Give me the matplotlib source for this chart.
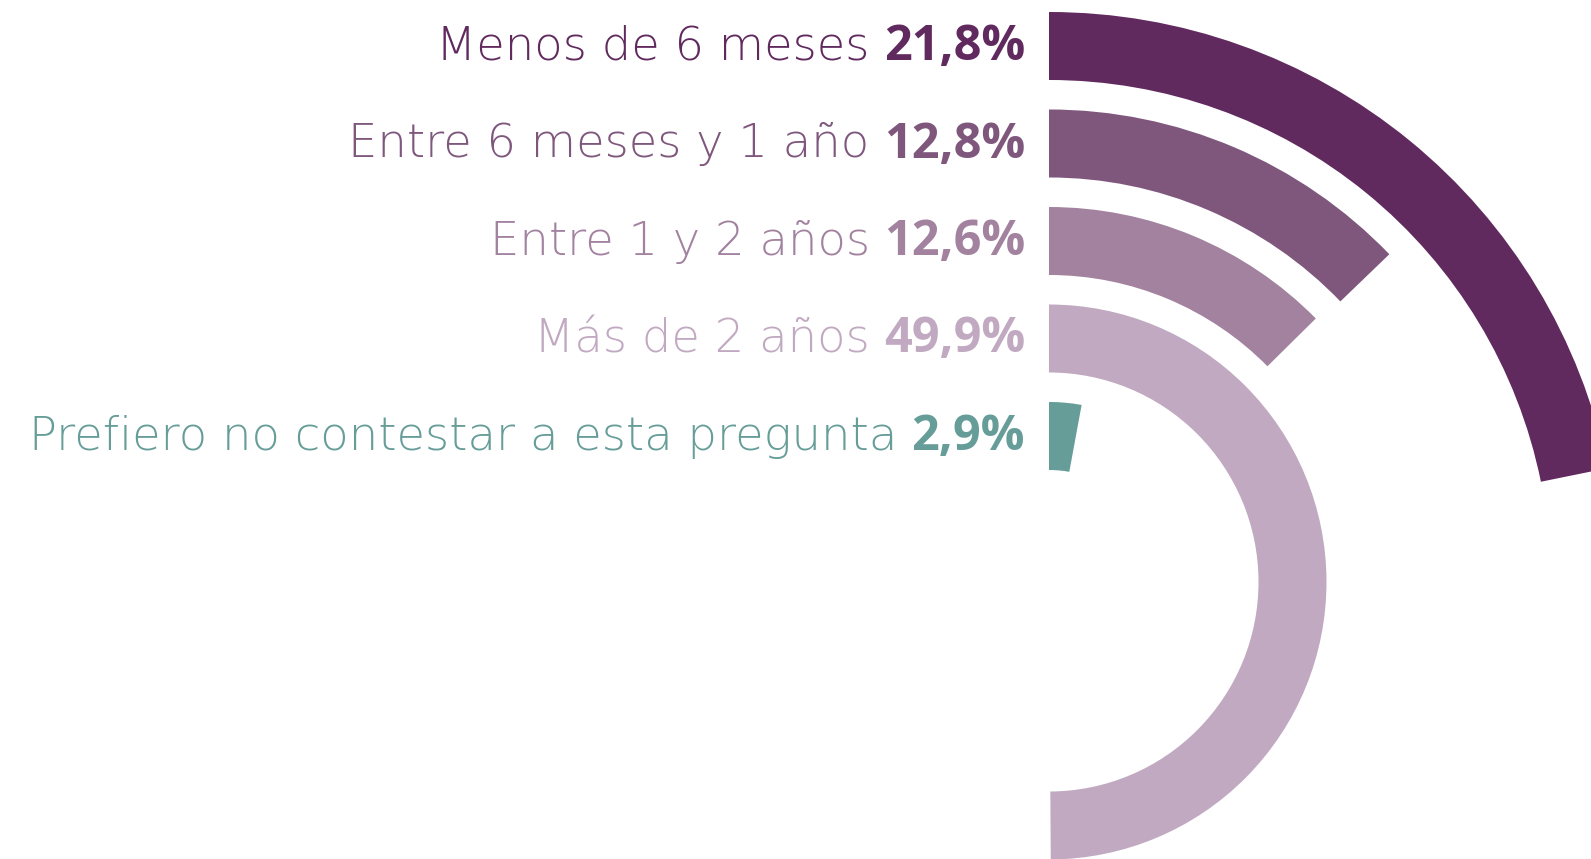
import numpy as np
import matplotlib
matplotlib.use("Agg")
import matplotlib.pyplot as plt
from matplotlib.transforms import IdentityTransform

labels = ["Menos de 6 meses", "Entre 6 meses y 1 año", "Entre 1 y 2 años",
          "Más de 2 años", "Prefiero no contestar a esta pregunta"]
values = [21.8, 12.8, 12.6, 49.9, 2.9]
colors = ["#612a5f", "#7f577d", "#a2829f", "#c1aac1", "#669d98"]

W, H = 1591, 859
cx, cy = 1049, 582          # centre of the rings, pixels from top-left
R = 600                     # polar axes radius in pixels
outer0 = 570                # outer radius of first ring
step = 97.5
thick = 68

fig = plt.figure(figsize=(W / 100, H / 100), dpi=100)
ax = fig.add_axes([(cx - R) / W, (H - cy - R) / H, 2 * R / W, 2 * R / H],
                  projection="polar")
ax.set_theta_zero_location("N")
ax.set_theta_direction(-1)
ax.set_rlim(0, R)
ax.axis("off")

outers = [outer0 - i * step for i in range(len(values))]
theta = [v / 100 * 2 * np.pi for v in values]
ax.bar(np.zeros(len(values)), [thick] * len(values), width=theta,
       bottom=[o - thick for o in outers], align="edge", color=colors, linewidth=0)

x_right = 1025
pct_texts = []
for o, v, col in zip(outers, values, colors):
    y = H - (cy - o + 48)
    t = fig.text(x_right, y, f"{v:.1f}%".replace(".", ","), transform=IdentityTransform(),
                 ha="right", va="baseline", fontsize=35, fontweight="bold",
                 color=col, family="Open Sans")
    pct_texts.append((t, y, col))

fig.canvas.draw()
r = fig.canvas.get_renderer()
for (t, y, col), lab in zip(pct_texts, labels):
    bb = t.get_window_extent(r)
    fig.text(bb.x0 - 14, y, lab, transform=IdentityTransform(), ha="right",
             va="baseline", fontsize=33.5, fontweight="light", color=col,
             family="DejaVu Sans")

fig.savefig("out.png", dpi=100)
